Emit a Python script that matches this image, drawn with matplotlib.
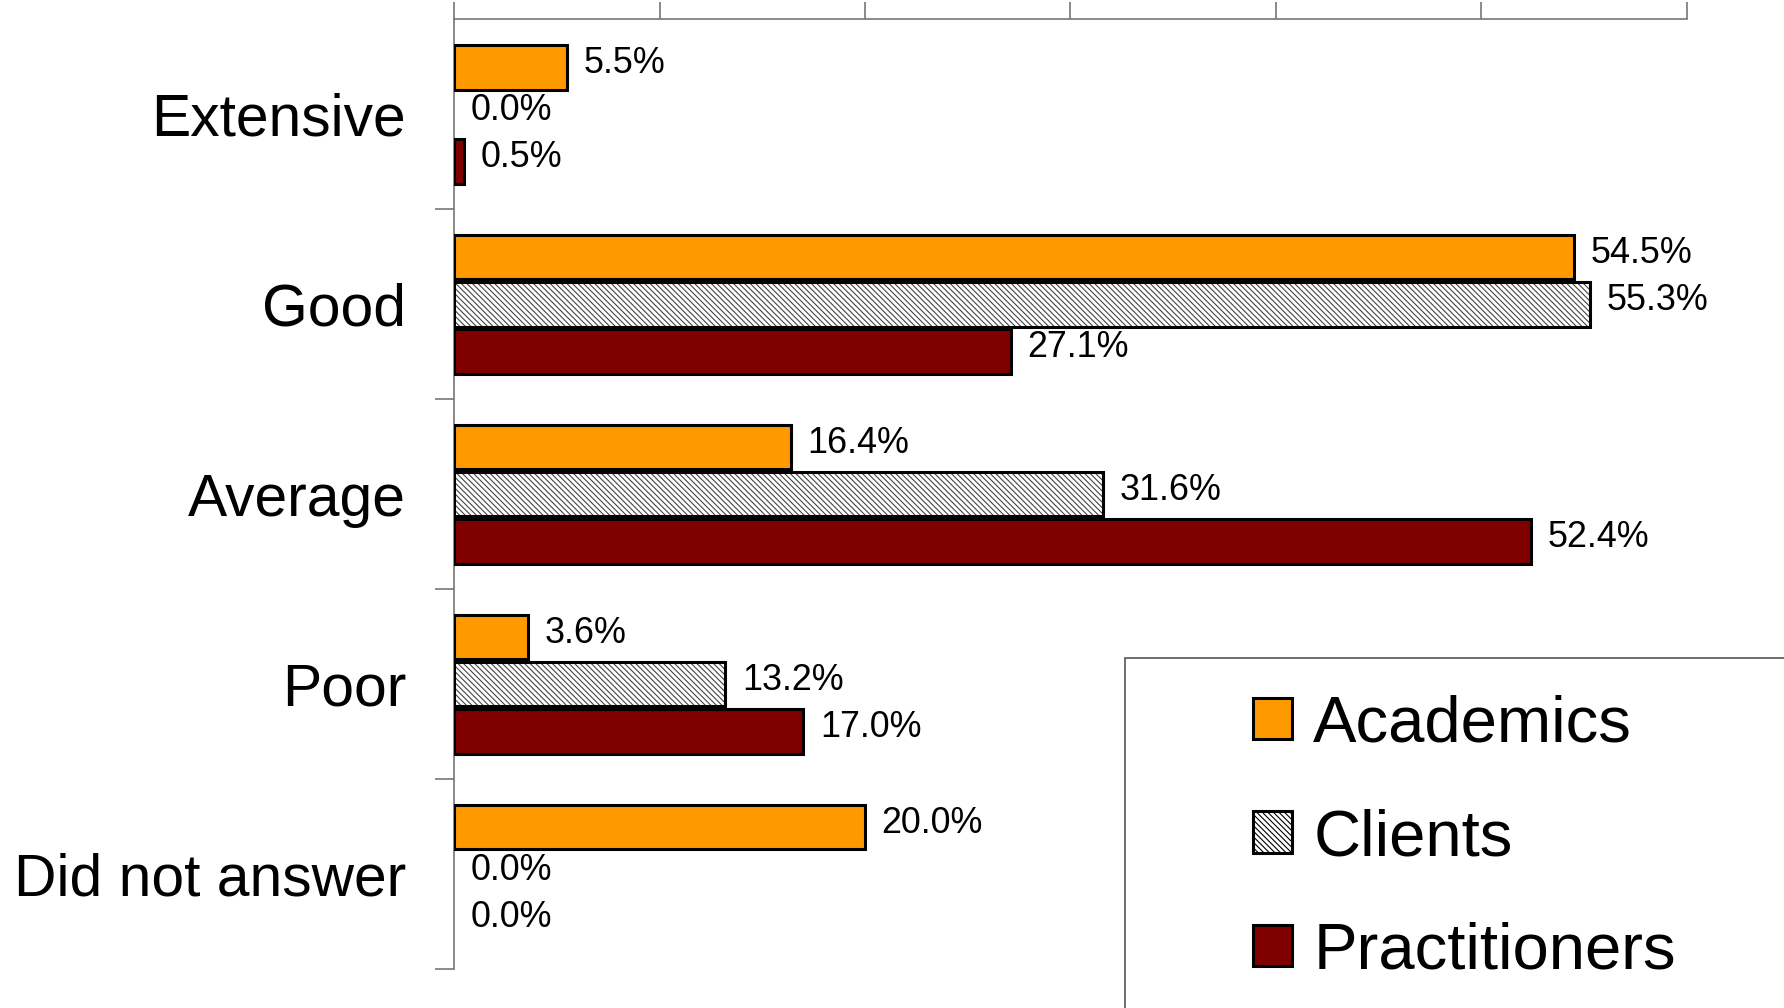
import numpy as np
import matplotlib
matplotlib.use("Agg")
import matplotlib.pyplot as plt
from matplotlib.patches import Patch, Rectangle

plt.rcParams['font.family'] = ['Liberation Sans', 'DejaVu Sans']
plt.rcParams['hatch.linewidth'] = 0.8

categories = ["Extensive", "Good", "Average", "Poor", "Did not answer"]
series_names = ["Academics", "Clients", "Practitioners"]
academics = [5.5, 54.5, 16.4, 3.6, 20.0]
clients = [0.0, 55.3, 31.6, 13.2, 0.0]
practitioners = [0.5, 27.1, 52.4, 17.0, 0.0]

colors = ['#FF9900', 'white', '#800000']
hatches = [None, '\\\\\\\\\\\\', None]
offsets = [-0.248, 0.0, 0.248]
bar_h = 0.235
axis_gray = '#777777'

fig = plt.figure(figsize=(17.84, 10.08), dpi=100)
ax = fig.add_axes([0.2545, 0.0387, 0.6911, 0.9421])

y = np.arange(len(categories))
for vals, col, hat, off in zip([academics, clients, practitioners], colors, hatches, offsets):
    lws = [2.2 if v > 0 else 0 for v in vals]
    if hat:
        # hatch in grey, outline drawn separately in black
        ax.barh(y + off, vals, height=bar_h, color=col, edgecolor='#444444',
                hatch=hat, linewidth=0, zorder=2)
        ax.barh(y + off, vals, height=bar_h, color='none', edgecolor='black',
                linewidth=lws, zorder=3)
    else:
        ax.barh(y + off, vals, height=bar_h, color=col, edgecolor='black',
                linewidth=lws, zorder=3)
    for yi, v in zip(y + off, vals):
        ax.annotate(f"{v:.1f}%", xy=(v, yi), xytext=(12, 2.8), textcoords='offset points',
                    ha='left', va='center', fontsize=25.8)

ax.set_xlim(0, 60)
ax.set_ylim(len(categories) - 0.5, -0.5)

# x axis on top, no labels
ax.xaxis.tick_top()
ax.set_xticks(np.arange(0, 61, 10))
ax.tick_params(axis='x', which='major', direction='out', length=12, width=1.2,
               color=axis_gray, labeltop=False, labelbottom=False)

# y: boundary ticks + centred category labels
ax.set_yticks(np.arange(0.5, len(categories), 1.0))
ax.set_yticks(y, minor=True)
ax.set_yticklabels(categories, minor=True, fontsize=42.3)
ax.tick_params(axis='y', which='major', direction='out', length=14, width=1.2,
               color=axis_gray, labelleft=False)
ax.tick_params(axis='y', which='minor', length=0, pad=34.5)

for s in ['right', 'bottom']:
    ax.spines[s].set_visible(False)
for s in ['top', 'left']:
    ax.spines[s].set_color(axis_gray)
    ax.spines[s].set_linewidth(1.2)

# legend frame running off the figure edge
fig.add_artist(Rectangle((0.6306, -0.05), 0.5, 0.3972, transform=fig.transFigure,
                         facecolor='none', edgecolor='#555555', linewidth=1.2,
                         clip_on=False, zorder=4))

handles = [Patch(facecolor=c, edgecolor='black', hatch=h, linewidth=2.2)
           for c, h in zip(colors, hatches)]
fig.legend(handles, series_names, loc='upper left', bbox_to_anchor=(0.7024, 0.311),
           frameon=False, fontsize=47.0, borderpad=0, borderaxespad=0,
           handlelength=0.6, handleheight=0.6, handletextpad=0.32, labelspacing=0.82)

fig.savefig("out.png", dpi=100)
